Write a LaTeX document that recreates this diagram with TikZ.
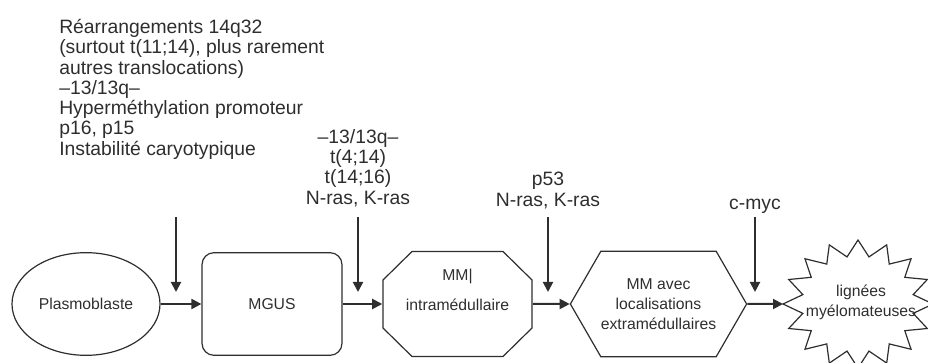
\documentclass[tikz,border=0pt]{standalone}
\usepackage{fontspec}
\setmainfont{Liberation Sans}
\usetikzlibrary{arrows.meta,shapes.geometric,shapes.symbols}

\definecolor{ink}{HTML}{2E2E2E}

\begin{document}
\begin{tikzpicture}[x=0.75pt, y=-0.75pt,
  fleche/.style={ink, line width=1.5pt, -{Triangle[length=7.5pt,width=7.5pt]}},
  etape/.style={draw=ink, line width=0.9pt, text=ink, align=center, inner sep=0pt,
    font=\fontsize{11.8}{15}\selectfont},
  note/.style={text=ink, align=center, inner sep=0pt, font=\fontsize{14.5}{15.2}\selectfont}]
 \useasboundingbox (0,0) rectangle (928,363);
 \clip (0,0) rectangle (928,363);

 % les etapes
 \node[etape, ellipse, minimum width=111pt, minimum height=77pt] (plasmo) at (86,304) {Plasmoblaste};
 \node[etape, rectangle, rounded corners=9pt, minimum width=105pt, minimum height=77pt] (mgus) at (272,304) {MGUS};
 \node[etape, draw=none, minimum width=112pt, minimum height=79pt] (intra) at (457.5,304) {MM|\\[7.5pt]intramédullaire\\[6pt]\mbox{}};
 \draw[ink, line width=0.9pt, shift={(457.5,304)}] (-74.5,-24) -- (-45.5,-52.5) -- (45.5,-52.5) -- (74.5,-24)
   -- (74.5,24) -- (45.5,52.5) -- (-45.5,52.5) -- (-74.5,24) -- cycle;
 \node[etape, signal, signal to=west and east, signal pointer angle=120,
   minimum width=122pt, minimum height=79pt] (extra) at (658.5,304) {MM avec\\localisations\\extramédullaires};
 \node[etape, draw=none] (lignees) at (861,302) {lignées\\myélomateuses};
 \draw[ink, line width=0.9pt, shift={(858,304)}] (180:75 and 64)
   \foreach \i [evaluate=\i as \r using {1-0.25*mod(\i,2)}] in {1,...,31} { -- ({180+11.25*\i}:{75*\r} and {64*\r}) } -- cycle;
 \coordinate (pointe) at (783,304);

 % evenements genetiques
 \node[note, align=left, anchor=north west] (mut1) at (59,19) {Réarrangements 14q32\\(surtout t(11;14), plus rarement\\autres translocations)\\–13/13q–\\Hyperméthylation promoteur\\p16, p15\\Instabilité caryotypique};
 \node[note, anchor=south] (mut2) at (358,207) {–13/13q–\\t(4;14)\\t(14;16)\\N-ras, K-ras};
 \node[note, anchor=south] (mut3) at (548,209) {p53\\N-ras, K-ras};
 \node[note, anchor=south] (mut4) at (755,214) {c-myc};

 \coordinate (haut1) at (176,217); \coordinate (bas1) at (176,292);
 \coordinate (haut2) at (358,217); \coordinate (bas2) at (358,292);
 \coordinate (haut3) at (548,217); \coordinate (bas3) at (548,292);
 \coordinate (haut4) at (755,217); \coordinate (bas4) at (755,292);

 \draw[fleche] (haut1) -- (bas1);
 \draw[fleche] (haut2) -- (bas2);
 \draw[fleche] (haut3) -- (bas3);
 \draw[fleche] (haut4) -- (bas4);

 \draw[fleche] (plasmo) -- (mgus);
 \draw[fleche] (mgus) -- (intra);
 \draw[fleche] (intra) -- (extra);
 \draw[fleche] (extra) -- (pointe);
\end{tikzpicture}
\end{document}
